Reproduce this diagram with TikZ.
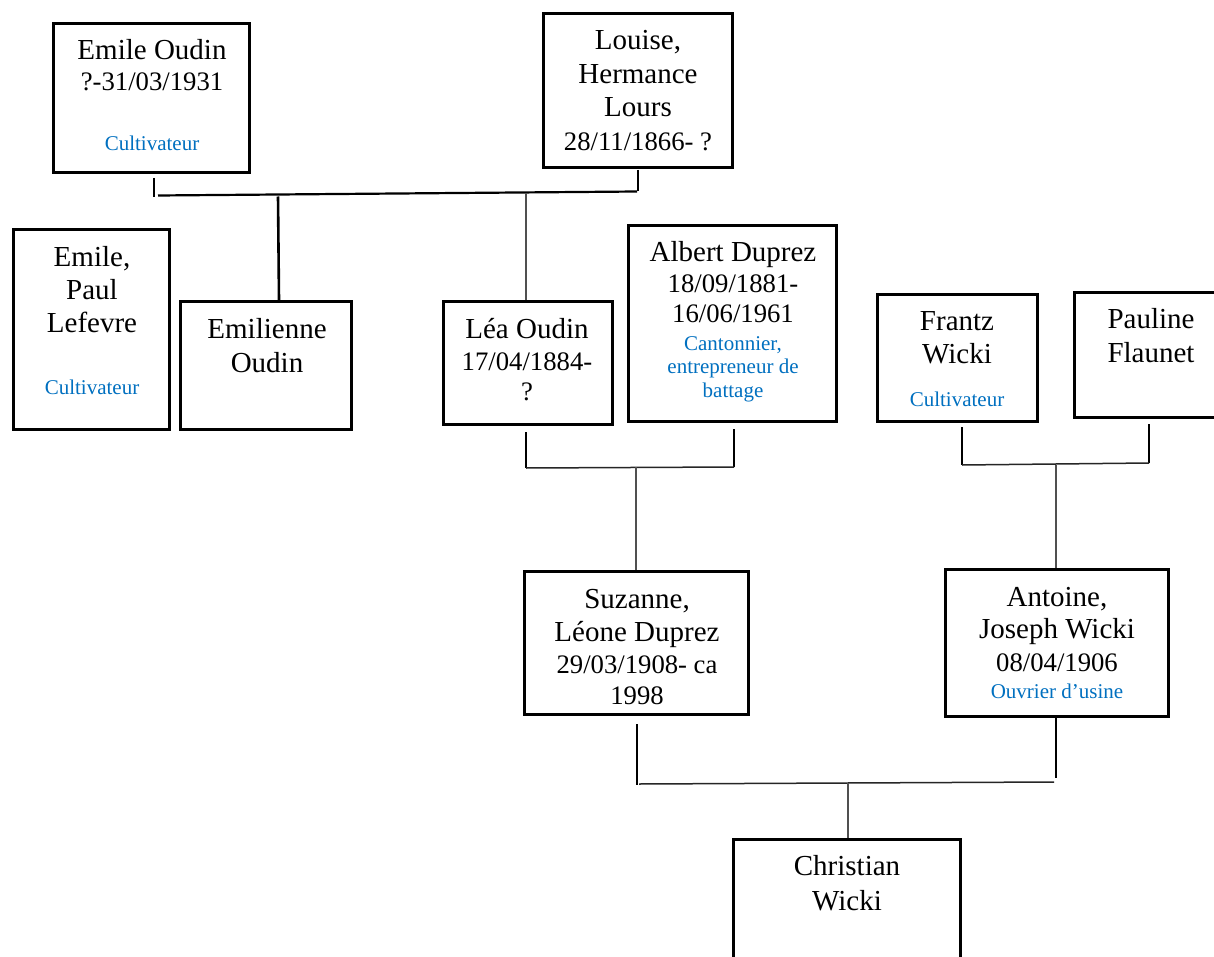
\documentclass[tikz,border=0pt]{standalone}
\usepackage{fontspec}
\setmainfont{Liberation Serif}
\definecolor{occblue}{RGB}{0,112,192}
\definecolor{thingrey}{RGB}{80,80,80}
\tikzset{
  person/.style={draw=black, line width=3pt, inner sep=0pt, fill=none},
  nametext/.style={anchor=base, inner sep=0pt, font=\fontsize{29}{33}\selectfont},
  occtext/.style={anchor=base, inner sep=0pt, text=occblue, font=\fontsize{21}{23.5}\selectfont},
  stub/.style={line width=2.6pt, black},
  bar/.style={line width=2.2pt, black},
  thinbar/.style={line width=1.5pt, black!85},
  childline/.style={line width=1.4pt, thingrey},
}
\newcommand{\lines}[1]{\begin{tabular}[t]{@{}c@{}}#1\end{tabular}}
\newcommand{\dt}[1]{{\fontsize{26.7}{31}\selectfont #1}}
\begin{document}
\begin{tikzpicture}[x=1pt,y=-1pt]
\useasboundingbox (0,0) rectangle (1214,957);
\fill[white] (0,0) rectangle (1214,957);

% ---------- boxes ----------
\node[person, minimum width=196pt, minimum height=149pt] (eo)  at (151.5,98) {};
\node[person, minimum width=189pt, minimum height=154pt] (lo)  at (638,90.5) {};
\node[person, minimum width=156pt, minimum height=200pt] (epl) at (91.5,329.5) {};
\node[person, minimum width=171pt, minimum height=128pt] (emi) at (266,365.5) {};
\node[person, minimum width=169pt, minimum height=123pt] (lea) at (528,363) {};
\node[person, minimum width=208pt, minimum height=196pt] (alb) at (732.5,323.5) {};
\node[person, minimum width=160pt, minimum height=127pt] (fra) at (957.5,358) {};
\node[person, minimum width=154pt, minimum height=125pt] (pau) at (1151.5,355) {};
\node[person, minimum width=224pt, minimum height=143pt] (suz) at (636.5,643) {};
\node[person, minimum width=223pt, minimum height=147pt] (ant) at (1057,643) {};
\node[person, minimum width=227pt, minimum height=150pt] (chr) at (847,914) {};

% ---------- texts ----------
\node[nametext] (eo-t)  at (152,60)  {\lines{Emile Oudin\\[-2pt]\dt{?-31/03/1931}}};
\node[occtext]  (eo-o)  at (152,151) {Cultivateur};
\node[nametext] (lo-t)  at (638,50)  {\lines{Louise,\\[0.5pt]Hermance\\[0.5pt]Lours\\[0.5pt]\dt{28/11/1866- ?}}};
\node[nametext] (epl-t) at (92,267)  {\lines{Emile,\\Paul\\Lefevre}};
\node[occtext]  (epl-o) at (92,394)  {Cultivateur};
\node[nametext] (emi-t) at (267,338) {\lines{Emilienne\\[1pt]Oudin}};
\node[nametext] (lea-t) at (527,338) {\lines{Léa Oudin\\[-1pt]\dt{17/04/1884-}\\[-3pt]\dt{?}}};
\node[nametext] (alb-t) at (733,262) {\lines{Albert Duprez\\[-2pt]\dt{18/09/1881-}\\[-3pt]\dt{16/06/1961}}};
\node[occtext]  (alb-o) at (733,350) {\lines{Cantonnier,\\entrepreneur de\\battage}};
\node[nametext] (fra-t) at (957,330) {\lines{Frantz\\Wicki}};
\node[occtext]  (fra-o) at (957,406) {Cultivateur};
\node[nametext] (pau-t) at (1151,328) {\lines{Pauline\\[1pt]Flaunet}};
\node[nametext] (suz-t) at (637,608) {\lines{Suzanne,\\Léone Duprez\\[-1pt]\dt{29/03/1908- ca}\\[-2pt]\dt{1998}}};
\node[nametext] (ant-t) at (1057,606) {\lines{Antoine,\\[-1pt]Joseph Wicki\\[0pt]\dt{08/04/1906}}};
\node[occtext]  (ant-o) at (1057,698) {Ouvrier d’usine};
\node[nametext] (chr-t) at (847,875) {\lines{Christian\\[2pt]Wicki}};

% ---------- junction coordinates ----------
\coordinate (eoS)  at (154,178);
\coordinate (eoJ)  at (154,197);
\coordinate (hA)   at (158,195.5);
\coordinate (hB)   at (637,191.5);
\coordinate (loS)  at (638,170);
\coordinate (loJ)  at (638,191);
\coordinate (emiJ) at (278,196.5);
\coordinate (emiT) at (279,300);
\coordinate (leaJ) at (526,193);

\coordinate (leaS) at (526,432);
\coordinate (leaB) at (526,468);
\coordinate (albS) at (734,429);
\coordinate (albB) at (734,467);
\coordinate (laJ)  at (636,467);

\coordinate (fraS) at (962,427);
\coordinate (fraB) at (962,465);
\coordinate (pauS) at (1149,424);
\coordinate (pauB) at (1149,463);
\coordinate (fpJ)  at (1056,465);

\coordinate (suzS) at (637,724);
\coordinate (suzB) at (637,785);
\coordinate (antS) at (1056,718);
\coordinate (antB) at (1056,778);
\coordinate (saA)  at (639,784);
\coordinate (saB)  at (1054,782);
\coordinate (saJ)  at (848,783);

% ---------- connectors ----------
% Oudin / Lours couple
\draw[stub] (eoS) -- (eoJ);
\draw[stub] (loS) -- (loJ);
\draw[bar]  (hA) -- (hB);
\draw[stub] (emiJ) -- (emiT);
\draw[childline] (leaJ) -- (lea.north -| leaJ);

% Lea / Albert
\draw[stub] (leaS) -- (leaB);
\draw[stub] (albS) -- (albB);
\draw[thinbar] (leaB) -- (albB);
\draw[childline] (laJ) -- (suz.north -| laJ);

% Frantz / Pauline
\draw[stub] (fraS) -- (fraB);
\draw[stub] (pauS) -- (pauB);
\draw[thinbar] (fraB) -- (pauB);
\draw[childline] (fpJ) -- (ant.north -| fpJ);

% Suzanne / Antoine
\draw[stub] (suzS) -- (suzB);
\draw[stub] (antS) -- (antB);
\draw[thinbar] (saA) -- (saB);
\draw[childline] (saJ) -- (chr.north -| saJ);
\end{tikzpicture}
\end{document}
